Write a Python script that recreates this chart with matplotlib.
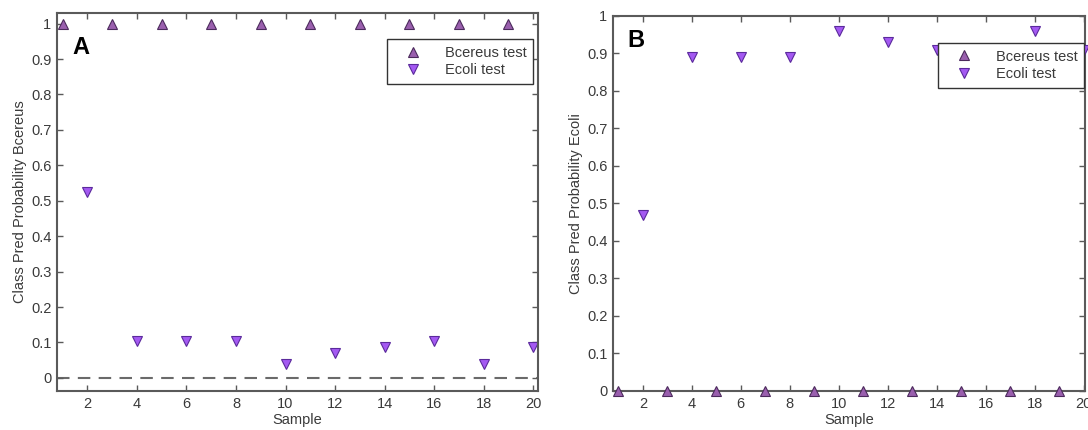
import matplotlib
matplotlib.use("Agg")
import matplotlib.pyplot as plt

plt.rcParams['font.family'] = ['Liberation Sans', 'DejaVu Sans']

# sample numbers
bc_samples = [1, 3, 5, 7, 9, 11, 13, 15, 17, 19]
ec_samples = [2, 4, 6, 8, 10, 12, 14, 16, 18, 20]

# panel A: predicted probability of class Bcereus
a_bcereus = [1.0, 1.0, 1.0, 1.0, 1.0, 1.0, 1.0, 1.0, 1.0, 1.0]
a_ecoli = [0.525, 0.105, 0.105, 0.105, 0.04, 0.07, 0.088, 0.105, 0.04, 0.088]

# panel B: predicted probability of class Ecoli (sample 16 sits behind the legend)
b_bcereus = [0.0, 0.0, 0.0, 0.0, 0.0, 0.0, 0.0, 0.0, 0.0, 0.0]
b_ecoli = [0.47, 0.89, 0.89, 0.89, 0.96, 0.93, 0.91, 0.89, 0.96, 0.91]

xticks = [2, 4, 6, 8, 10, 12, 14, 16, 18, 20]
yticks = [0, 0.1, 0.2, 0.3, 0.4, 0.5, 0.6, 0.7, 0.8, 0.9, 1]
yticklabels = ['0', '0.1', '0.2', '0.3', '0.4', '0.5', '0.6', '0.7', '0.8', '0.9', '1']

up_face, up_edge = '#9a5fae', '#4b2a5c'
dn_face, dn_edge = '#a459f2', '#5b2a9c'
txt = '#3a3a3a'
spine = '#5a5a5a'
fs = 10.5

fig = plt.figure(figsize=(10.88, 4.30), dpi=100)
axA = fig.add_axes([0.0524, 0.0907, 0.4421, 0.8791])
axB = fig.add_axes([0.5634, 0.0907, 0.4336, 0.8721])


def style(ax, ylabel):
    ax.set_xticks(xticks)
    ax.set_yticks(yticks)
    ax.set_yticklabels(yticklabels)
    ax.tick_params(direction='in', top=True, right=True, length=4, width=1,
                   color=spine, labelsize=fs, labelcolor=txt, pad=4)
    for s in ax.spines.values():
        s.set_color(spine)
        s.set_linewidth(1.5)
    ax.set_xlabel('Sample', fontsize=fs, color=txt, labelpad=2)
    ax.set_ylabel(ylabel, fontsize=fs, color=txt, labelpad=3)


def add_legend(ax, anchor):
    leg = ax.legend(loc='upper left', bbox_to_anchor=anchor, borderaxespad=0,
                    fontsize=fs, frameon=True, fancybox=False,
                    edgecolor='#333333', framealpha=1, borderpad=0.45,
                    handlelength=2.6, handletextpad=0.9, labelspacing=0.25)
    leg.get_frame().set_linewidth(1)
    leg.set_zorder(5)
    for t in leg.get_texts():
        t.set_color(txt)
    return leg


# panel A
axA.plot(bc_samples, a_bcereus, linestyle='none', marker='^', markersize=7,
         markerfacecolor=up_face, markeredgecolor=up_edge, markeredgewidth=0.8,
         label='Bcereus test')
axA.plot(ec_samples, a_ecoli, linestyle='none', marker='v', markersize=7,
         markerfacecolor=dn_face, markeredgecolor=dn_edge, markeredgewidth=0.8,
         label='Ecoli test')
axA.axhline(0, color='#6a6a6a', linestyle=(0, (6, 4)), linewidth=1.5, zorder=1)
axA.set_xlim(0.77, 20.2)
axA.set_ylim(-0.037, 1.03)
style(axA, 'Class Pred Probability Bcereus')
add_legend(axA, (0.686, 0.931))
axA.text(0.031, 0.94, 'A', transform=axA.transAxes, fontsize=17,
         fontweight='bold', va='top', ha='left')

# panel B
axB.plot(bc_samples, b_bcereus, linestyle='none', marker='^', markersize=7,
         markerfacecolor=up_face, markeredgecolor=up_edge, markeredgewidth=0.8,
         label='Bcereus test', clip_on=False, zorder=3)
axB.plot(ec_samples, b_ecoli, linestyle='none', marker='v', markersize=7,
         markerfacecolor=dn_face, markeredgecolor=dn_edge, markeredgewidth=0.8,
         label='Ecoli test', clip_on=False, zorder=3)
axB.set_xlim(0.78, 20.05)
axB.set_ylim(0, 1)
style(axB, 'Class Pred Probability Ecoli')
add_legend(axB, (0.689, 0.928))
axB.text(0.031, 0.965, 'B', transform=axB.transAxes, fontsize=17,
         fontweight='bold', va='top', ha='left')

fig.savefig('out.png', dpi=100)
